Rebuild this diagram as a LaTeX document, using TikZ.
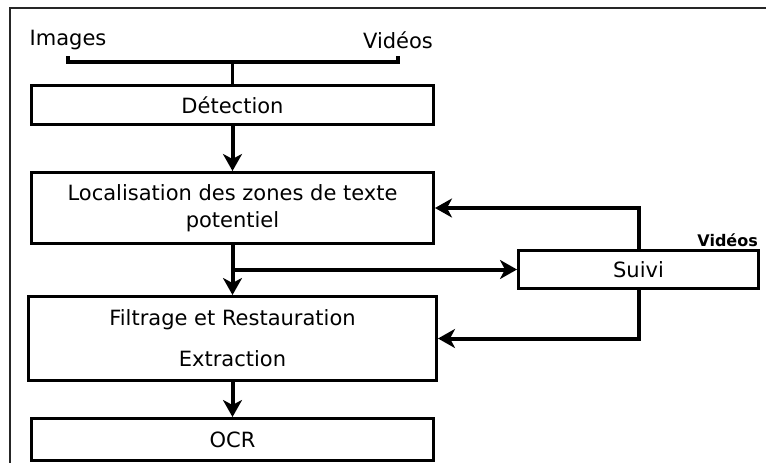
\documentclass[tikz,border=0pt]{standalone}
\usepackage{fontspec}
\setmainfont{DejaVu Sans}
\usetikzlibrary{arrows.meta}

\begin{document}
\begin{tikzpicture}[x=1pt,y=-1pt,>={Stealth[length=17pt,width=19pt,inset=5pt]},
	font=\fontsize{21}{27}\selectfont,
	box/.style={draw,line width=3pt,inner sep=0pt,anchor=north west,align=center},
	fleche/.style={->,line width=4pt},
	trait/.style={line width=3.5pt}]
	\useasboundingbox (0,0) rectangle (766,463);
	%\draw [help lines] (0,0) grid (766,463);
	\draw [line width=1.2pt,black!85] (10,463) -- (10,8) -- (766,8);
	% entrees
	\node (images) at (68,40) {Images};
	\node (videos) at (398,40) {Vidéos};
	% etapes
	\node [box,minimum width=402pt,minimum height=39pt] (detection) at (30,84) {Détection};
	\node [box,minimum width=402pt,minimum height=71pt] (localisation) at (30,171) {Localisation des zones de texte\\potentiel};
	\node [box,minimum width=408pt,minimum height=84pt,font=\fontsize{21}{41}\selectfont] (filtrage) at (27,295) {Filtrage et Restauration\\Extraction};
	\node [box,minimum width=402pt,minimum height=42pt] (ocr) at (30,417) {OCR};
	\node [box,minimum width=240pt,minimum height=38pt] (suivi) at (517,249) {Suivi};
	\node [anchor=south east,inner sep=2pt,font=\bfseries\fontsize{16}{18}\selectfont] (videossuivi) at (suivi.north east) {Vidéos};
	% liens
	\draw [trait] (images.south |- 0,56) -- (images.south |- 0,62) -| (videos.south |- 0,56);
	\draw [trait] (detection.north |- 0,62) -- (detection.north);
	\draw [fleche] (detection) -- (localisation);
	\draw [fleche] (localisation) -- (filtrage);
	\draw [fleche] (filtrage) -- (ocr);
	\draw [fleche] (localisation.south |- suivi.west) -- (suivi.west);
	\draw [fleche] (suivi.north) |- (localisation.east);
	\draw [fleche] (suivi.south) |- (filtrage.east);
\end{tikzpicture}
\end{document}
